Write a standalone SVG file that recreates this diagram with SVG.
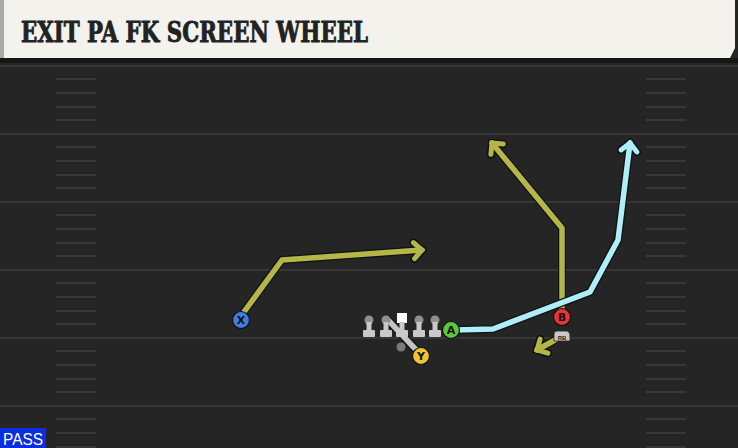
<svg xmlns="http://www.w3.org/2000/svg" width="738" height="448" viewBox="0 0 738 448">
<defs>
<style>
.yl{stroke:#363636;stroke-width:2}
.hm{stroke:#383838;stroke-width:2}
.out{fill:none;stroke:#111;stroke-width:8;stroke-linejoin:round;stroke-linecap:round}
.olv{fill:none;stroke:#b4b648;stroke-width:5.5;stroke-linejoin:round;stroke-linecap:round}
.blu{fill:none;stroke:#aeeef8;stroke-width:5.5;stroke-linejoin:round;stroke-linecap:round}
.lbl{font-family:"DejaVu Sans","Liberation Sans",sans-serif;font-weight:bold;font-size:11px;text-anchor:middle;fill:#111}
.ol{fill:#cacaca}
.olh{fill:#909090}
</style>
<marker id="ko" markerUnits="userSpaceOnUse" markerWidth="30" markerHeight="30" refX="0" refY="0" orient="auto" viewBox="-15 -15 30 30" overflow="visible">
<path d="M-8,-8 L0,0 L-8,8" fill="none" stroke="#111" stroke-width="8" stroke-linejoin="miter" stroke-linecap="round"/>
</marker>
<marker id="co" markerUnits="userSpaceOnUse" markerWidth="30" markerHeight="30" refX="0" refY="0" orient="auto" viewBox="-15 -15 30 30" overflow="visible">
<path d="M-8,-8 L0,0 L-8,8" fill="none" stroke="#b4b648" stroke-width="5" stroke-linejoin="miter" stroke-linecap="round"/>
</marker>
<marker id="cb" markerUnits="userSpaceOnUse" markerWidth="30" markerHeight="30" refX="0" refY="0" orient="auto" viewBox="-15 -15 30 30" overflow="visible">
<path d="M-8,-8 L0,0 L-8,8" fill="none" stroke="#aeeef8" stroke-width="5" stroke-linejoin="miter" stroke-linecap="round"/>
</marker>
</defs>
<rect x="0" y="0" width="738" height="448" fill="#252525"/>
<g id="field">
<line class="yl" x1="0" y1="66" x2="738" y2="66"/>
<line class="yl" x1="0" y1="134" x2="738" y2="134"/>
<line class="yl" x1="0" y1="202" x2="738" y2="202"/>
<line class="yl" x1="0" y1="270" x2="738" y2="270"/>
<line class="yl" x1="0" y1="338" x2="738" y2="338"/>
<line class="yl" x1="0" y1="406" x2="738" y2="406"/>
<path class="hm" d="M56,79H96M56,93H96M56,107H96M56,120H96M56,147H96M56,161H96M56,175H96M56,188H96M56,215H96M56,229H96M56,243H96M56,256H96M56,283H96M56,297H96M56,311H96M56,324H96M56,351H96M56,365H96M56,379H96M56,392H96M56,419H96M56,433H96M56,447H96"/>
<path class="hm" d="M646,79H686M646,93H686M646,107H686M646,120H686M646,147H686M646,161H686M646,175H686M646,188H686M646,215H686M646,229H686M646,243H686M646,256H686M646,283H686M646,297H686M646,311H686M646,324H686M646,351H686M646,365H686M646,379H686M646,392H686M646,419H686M646,433H686M646,447H686"/>
</g>
<g id="header">
<rect x="0" y="58" width="738" height="5" fill="#161616"/>
<path d="M0,0 H735 V48 L730,58 H0 Z" fill="#f4f2ed"/>
<rect x="0" y="0" width="4" height="58" fill="#a9a9a9"/>
<text x="21" y="42" font-family="'DejaVu Serif',serif" font-weight="bold" font-size="27" fill="#222" stroke="#222" stroke-width="0.9" textLength="347" lengthAdjust="spacingAndGlyphs">EXIT PA FK SCREEN WHEEL</text>
</g>
<g id="connectors">
<path class="out" d="M241,316 L282,260 L422,250" marker-end="url(#ko)"/>
<path class="olv" d="M241,316 L282,260 L422,250" marker-end="url(#co)"/>
<path class="out" d="M562,312 L562,228 L492,143" marker-end="url(#ko)"/>
<path class="olv" d="M562,312 L562,228 L492,143" marker-end="url(#co)"/>
<path class="out" d="M455,330 L493,329 L590,292 L618,240 L630,143" marker-end="url(#ko)"/>
<path class="blu" d="M455,330 L493,329 L590,292 L618,240 L630,143" marker-end="url(#cb)"/>
<path class="out" d="M555,340 L537,350" marker-end="url(#ko)"/>
<path class="olv" d="M555,340 L537,350" marker-end="url(#co)"/>
<path d="M421,355 L389,321" stroke="#111" stroke-width="8" stroke-linecap="round"/>
<path d="M421,355 L389,321" stroke="#c4c4c4" stroke-width="5.5" stroke-linecap="round"/>
</g>
<g id="line">
<g id="ol1"><circle class="olh" cx="369" cy="320" r="4.5"/><rect class="ol" x="366.5" y="322" width="5" height="10"/><rect class="ol" x="363" y="330" width="12" height="7" rx="1"/></g>
<g id="ol2"><circle class="olh" cx="386" cy="320" r="4.5"/><rect class="ol" x="383.5" y="322" width="5" height="10"/><rect class="ol" x="380" y="330" width="12" height="7" rx="1"/></g>
<g id="center"><rect x="397" y="313" width="10" height="10" fill="#fff"/><rect class="ol" x="399.5" y="322" width="5" height="10"/><rect class="ol" x="396" y="330" width="12" height="7" rx="1"/></g>
<g id="ol4"><circle class="olh" cx="419" cy="320" r="4.5"/><rect class="ol" x="416.5" y="322" width="5" height="10"/><rect class="ol" x="413" y="330" width="12" height="7" rx="1"/></g>
<g id="ol5"><circle class="olh" cx="435" cy="320" r="4.5"/><rect class="ol" x="432.5" y="322" width="5" height="10"/><rect class="ol" x="429" y="330" width="12" height="7" rx="1"/></g>
</g>
<g id="qb"><circle cx="401" cy="347" r="4.5" fill="#7a7a7a"/></g>
<g id="X"><circle cx="241" cy="320" r="8.5" fill="#3f7de0" stroke="#111" stroke-width="1.2"/><text class="lbl" x="241" y="324">X</text></g>
<g id="A"><circle cx="451" cy="330" r="8.5" fill="#5ac83a" stroke="#111" stroke-width="1.2"/><text class="lbl" x="451" y="334">A</text></g>
<g id="Y"><circle cx="421" cy="356" r="8.5" fill="#f2c230" stroke="#111" stroke-width="1.2"/><text class="lbl" x="421" y="360">Y</text></g>
<g id="B"><circle cx="562" cy="317" r="8.5" fill="#e8323c" stroke="#111" stroke-width="1.2"/><text class="lbl" x="562" y="321">B</text></g>
<g id="RB"><path d="M554,341 V334 Q554,331 557,331 H566 Q570,331 570,336 V341 Z" fill="#c8c8c8" stroke="#222" stroke-width="0.8"/><text x="562" y="339.5" font-family="'Liberation Sans',sans-serif" font-size="6" font-weight="bold" fill="#222" text-anchor="middle">RB</text></g>
<g id="pass"><rect x="0" y="428" width="46" height="20" fill="#0b2ee0"/><text x="23" y="444.5" font-family="'Liberation Sans',sans-serif" font-size="16" fill="#fff" text-anchor="middle" textLength="40" lengthAdjust="spacingAndGlyphs">PASS</text></g>
</svg>
